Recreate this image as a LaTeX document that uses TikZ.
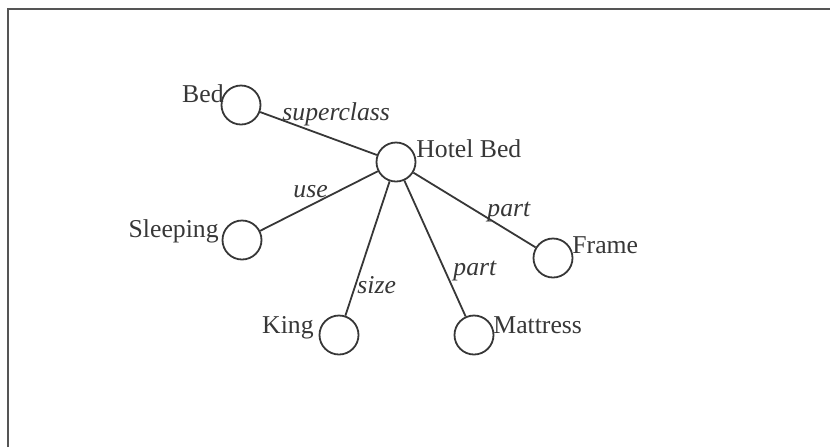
\documentclass[tikz,border=0pt]{standalone}
\usepackage{fontspec}
\setmainfont{Liberation Serif}
\definecolor{ink}{RGB}{55,55,55}
\definecolor{framec}{RGB}{85,85,85}
\begin{document}
\begin{tikzpicture}[x=0.5pt,y=-0.5pt,
  concept/.style={circle,draw=ink,line width=0.9pt,minimum size=19.5pt,inner sep=0pt},
  lbl/.style={inner sep=0pt,text=ink,font=\fontsize{12.85}{15}\selectfont},
  elbl/.style={inner sep=0pt,text=ink,font=\fontsize{12.85}{15}\selectfont\itshape},
  link/.style={draw=ink,line width=0.9pt}]
\useasboundingbox (0,0) rectangle (830,447);
\draw[framec,line width=1pt] (8,447) -- (8,9) -- (830,9);
% concepts
\node[concept] (bed) at (241,105) {};
\node[concept] (hotel) at (396,162) {};
\node[concept] (sleep) at (242,240) {};
\node[concept] (king) at (339,335) {};
\node[concept] (matt) at (474,335) {};
\node[concept] (frame) at (553,258) {};
% concept labels
\node[lbl,anchor=base east] (tbed) at (224,102) {Bed};
\node[lbl,anchor=base west] (thotel) at (416,157) {Hotel Bed};
\node[lbl,anchor=base east] (tsleep) at (219,237) {Sleeping};
\node[lbl,anchor=base east] (tking) at (314,333) {King};
\node[lbl,anchor=base west] (tmatt) at (493,333) {Mattress};
\node[lbl,anchor=base west] (tframe) at (572,253) {Frame};
% links
\draw[link] (bed) -- (hotel);
\draw[link] (hotel) -- (sleep);
\draw[link] (hotel) -- (king);
\draw[link] (hotel) -- (matt);
\draw[link] (hotel) -- (frame);
% link labels
\node[elbl,anchor=base west] (lsup) at (282,120) {superclass};
\node[elbl,anchor=base west] (luse) at (293,197) {use};
\node[elbl,anchor=base west] (lpart1) at (487,216) {part};
\node[elbl,anchor=base west] (lpart2) at (453,275) {part};
\node[elbl,anchor=base west] (lsize) at (357,293) {size};
\end{tikzpicture}
\end{document}
